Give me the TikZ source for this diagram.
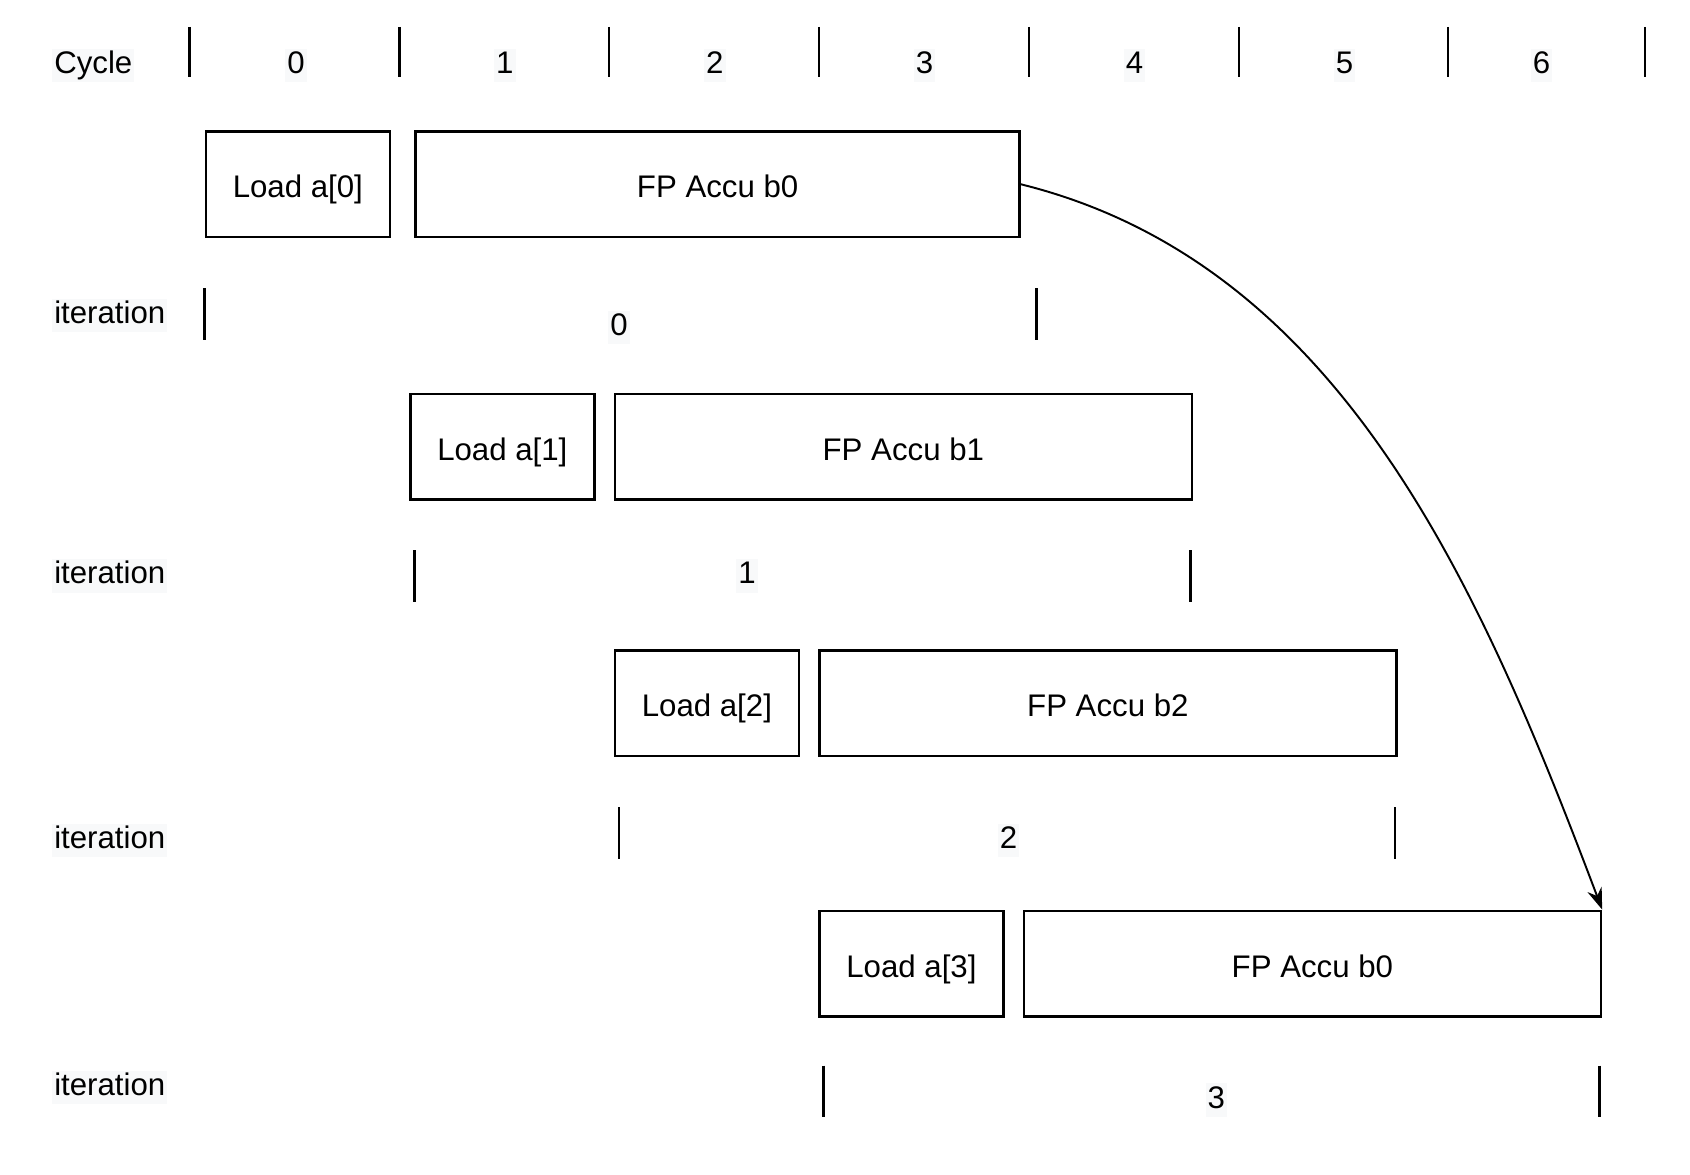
\documentclass[tikz,border=0pt]{standalone}
\usepackage{fontspec}
\setmainfont{Liberation Sans}
\usetikzlibrary{arrows.meta}
\definecolor{labelbg}{RGB}{248,249,250}

\begin{document}
\begin{tikzpicture}[x=0.5pt,y=-0.5pt,
        every node/.style={font=\fontsize{14.5}{17}\selectfont,text height=10.5pt,text depth=3pt},
        task/.style={draw,line width=1.2pt,minimum height=49pt,inner sep=0pt,anchor=north west,text height=14pt,text depth=1.5pt},
        lbl/.style={fill=labelbg,inner sep=1pt},
        tick/.style={line width=1.1pt}]
            \useasboundingbox (0,0) rectangle (1570,1091);
            \node[lbl,anchor=west] (cycle) at (48,61) {Cycle};
            \foreach \x in {176,371,566,761,956,1151,1345,1528}{
                \draw[tick] (\x,25)--(\x,72);
            }
            \foreach \x/\n in {275/0,469/1,664/2,859/3,1054/4,1249/5,1432/6}{
                \node[lbl] (c\n) at (\x,61) {\n};
            }
            \foreach \i/\y/\lx/\fx/\fw/\b in {0/121/190/385/561/b0,1/365/380/570/536/b1,2/603/570/760/536/b2,3/845/760/950/536/b0}{
                \node[task,minimum width=85.5pt] (load\i) at (\lx,\y) {Load a[\i]};
                \node[task,minimum width=\fw*0.5pt] (fp\i) at (\fx,\y) {FP Accu \b};
            }
            \foreach \i/\y/\ty/\a/\e/\nx/\ny in {0/293/292/190/963/575/304,1/535/535/385/1106/694/535,2/781/774/575/1296/937/781,3/1010/1014/765/1486/1130/1022}{
                \node[lbl,anchor=west] (iter\i) at (48,\y) {iteration};
                \draw[tick] (\a,\ty-24)--(\a,\ty+24);
                \draw[tick] (\e,\ty-24)--(\e,\ty+24);
                \node[lbl] (num\i) at (\nx,\ny) {\i};
            }
            \draw[line width=0.9pt,-{Stealth[length=10pt,width=7pt]}] (fp0.east) .. controls (1246,245) and (1375,545) .. (fp3.north east);
        \end{tikzpicture}
\end{document}
